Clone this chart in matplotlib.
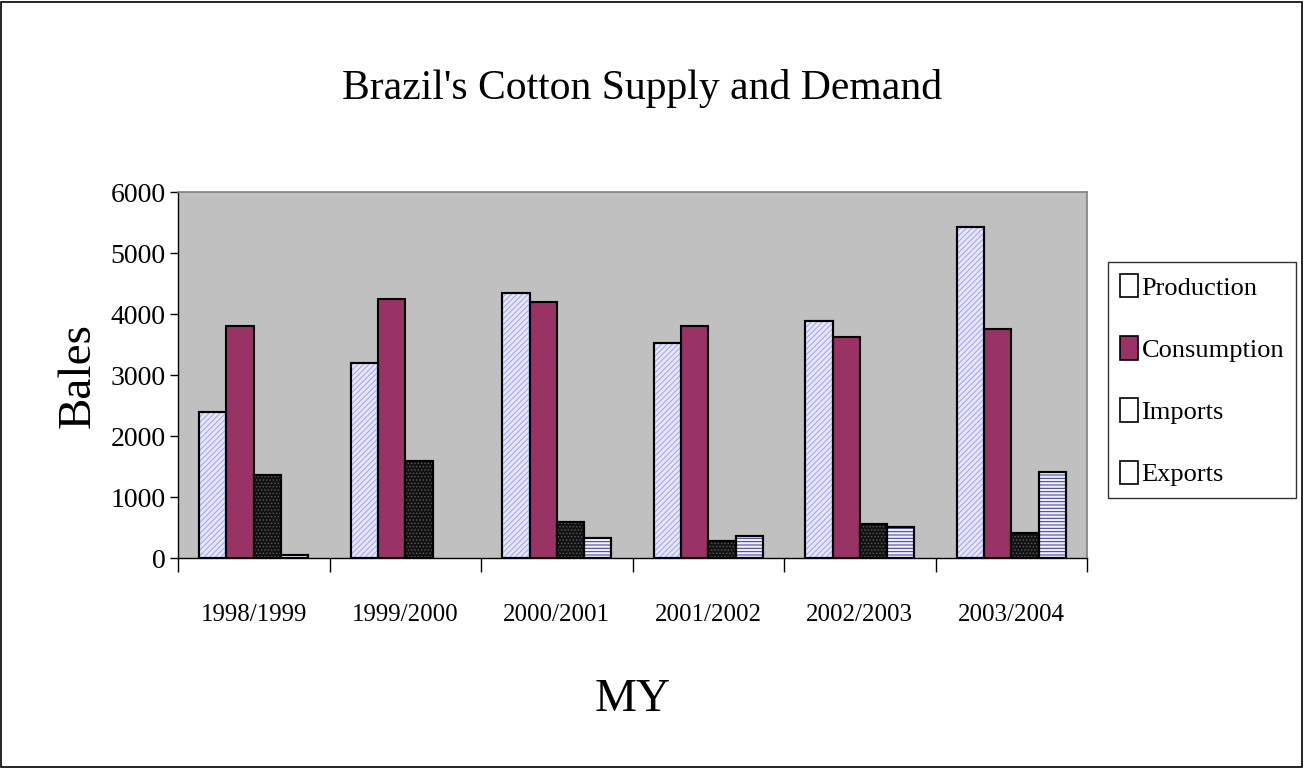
import matplotlib
matplotlib.use("Agg")
import matplotlib.pyplot as plt
import numpy as np
from matplotlib.patches import Rectangle, Patch

plt.rcParams['font.family'] = ['Liberation Serif', 'DejaVu Serif']
plt.rcParams['hatch.linewidth'] = 0.7

categories = ["1998/1999", "1999/2000", "2000/2001", "2001/2002", "2002/2003", "2003/2004"]
series_names = ["Production", "Consumption", "Imports", "Exports"]
production = [2400, 3200, 4350, 3520, 3880, 5420]
consumption = [3800, 4250, 4200, 3800, 3620, 3750]
imports = [1360, 1590, 590, 280, 560, 410]
exports = [50, 0, 330, 360, 510, 1410]
yticks = [0, 1000, 2000, 3000, 4000, 5000, 6000]

fig = plt.figure(figsize=(13.05, 7.68), dpi=100)
fig.patch.set_facecolor('white')
fig.add_artist(Rectangle((0.001, 0.001), 0.997, 0.997, transform=fig.transFigure,
                         fill=False, edgecolor='black', linewidth=1.2))

ax = fig.add_axes([0.1364, 0.2734, 0.6966, 0.4766])
ax.set_facecolor('#c0c0c0')

x = np.arange(len(categories))
w = 0.18
styles = [
    dict(facecolor='#e6e6ff', hatch='//////', hatchcolor='#a0a0f0'),
    dict(facecolor='#993366', hatch=None, hatchcolor=None),
    dict(facecolor='#111111', hatch='.....', hatchcolor='#555555'),
    dict(facecolor='#f0f0ff', hatch='-----', hatchcolor='#333399'),
]
data = [production, consumption, imports, exports]
for i, (vals, st) in enumerate(zip(data, styles)):
    offs = (i - 1.5) * w
    vals_arr = np.array(vals, dtype=float)
    lw = np.where(vals_arr > 0, 1.5, 0.0)
    bars = ax.bar(x + offs, vals_arr, width=w, facecolor=st['facecolor'],
                  edgecolor='black', linewidth=lw, zorder=3)
    if st['hatch']:
        for b in bars:
            if b.get_height() <= 0:
                continue
            hb = Rectangle(b.get_xy(), b.get_width(), b.get_height(),
                           facecolor='none', edgecolor=st['hatchcolor'],
                           hatch=st['hatch'], linewidth=0, zorder=3.5)
            ax.add_patch(hb)
        ax.bar(x + offs, vals_arr, width=w, facecolor='none',
               edgecolor='black', linewidth=lw, zorder=4)

ax.set_xlim(-0.5, len(categories) - 0.5)
ax.set_ylim(0, 6000)
ax.set_yticks(yticks)
ax.set_yticklabels([str(v) for v in yticks], fontsize=20)
ax.set_xticks(np.arange(len(categories) + 1) - 0.5)
ax.set_xticklabels([])
ax.set_xticks(x, minor=True)
ax.set_xticklabels(categories, minor=True, fontsize=18)
ax.tick_params(axis='x', which='minor', length=0, pad=33)
ax.tick_params(axis='x', which='major', length=10, width=1, direction='out')
ax.tick_params(axis='y', length=6, width=1, direction='out', pad=3)

for s in ['top', 'right']:
    ax.spines[s].set_color('#808080')
    ax.spines[s].set_linewidth(1.2)
for s in ['left', 'bottom']:
    ax.spines[s].set_color('black')
    ax.spines[s].set_linewidth(1.0)

ax.set_ylabel("Bales", fontsize=34, labelpad=8)
ax.set_xlabel("MY", fontsize=34, labelpad=38)
fig.text(0.492, 0.885, "Brazil's Cotton Supply and Demand", fontsize=30,
         ha='center', va='center')

handles = [Patch(facecolor='white', edgecolor='black', linewidth=1.2),
           Patch(facecolor='#993366', edgecolor='black', linewidth=1.2),
           Patch(facecolor='white', edgecolor='black', linewidth=1.2),
           Patch(facecolor='white', edgecolor='black', linewidth=1.2)]
leg = fig.legend(handles, series_names, loc='upper left',
                 bbox_to_anchor=(0.849, 0.659), fontsize=19, frameon=True,
                 fancybox=False, edgecolor='black', handlelength=0.7,
                 handleheight=1.0, handletextpad=0.12, labelspacing=1.38,
                 borderpad=0.45, borderaxespad=0)
leg.get_frame().set_linewidth(1.0)

fig.savefig("out.png", dpi=100)
